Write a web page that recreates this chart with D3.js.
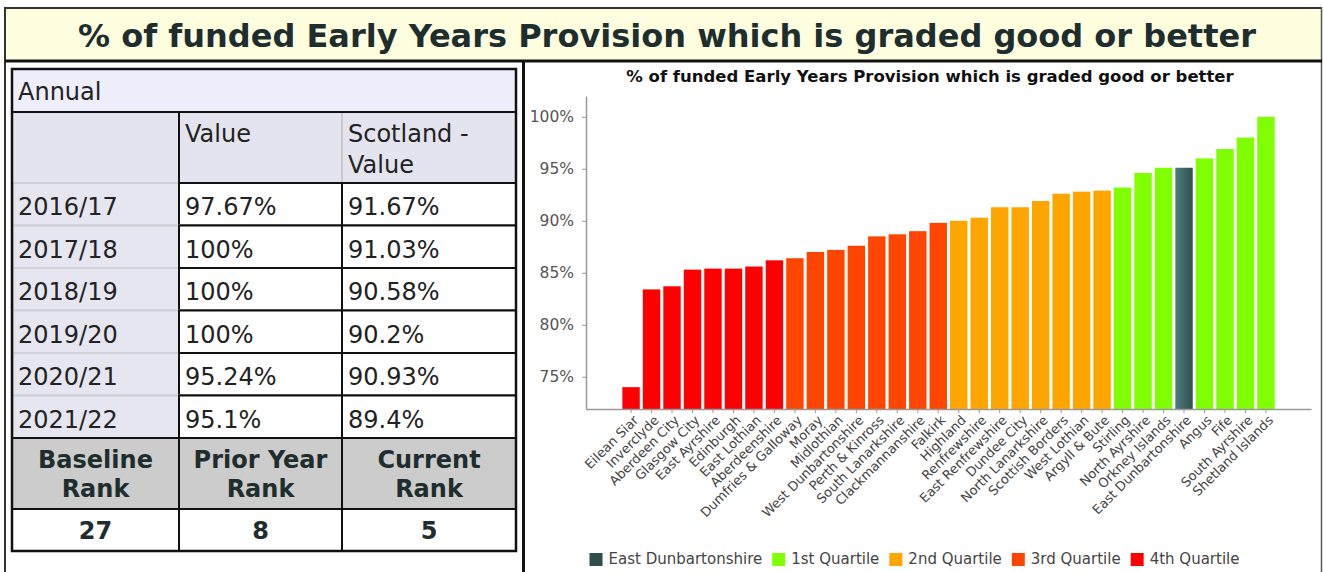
<!DOCTYPE html>
<html>
<head>
<meta charset="utf-8">
<script src="https://cdn.jsdelivr.net/npm/d3@7"></script>
<style>
  html, body { margin: 0; padding: 0; background: #fff; }
  svg { display: block; }
  text { font-family: "DejaVu Sans", Verdana, sans-serif; }
</style>
</head>
<body>
<svg id="page" width="1323" height="572"></svg>
<script>
// ---- data -------------------------------------------------------------
const pageTitle = "% of funded Early Years Provision which is graded good or better";

const years = ["2016/17", "2017/18", "2018/19", "2019/20", "2020/21", "2021/22"];
const eastDunValues = [97.67, 100, 100, 100, 95.24, 95.1];
const scotlandValues = [91.67, 91.03, 90.58, 90.2, 90.93, 89.4];

const rankLabels = [["Baseline", "Rank"], ["Prior Year", "Rank"], ["Current", "Rank"]];
const rankValues = [27, 8, 5];

const councils = [
  "Eilean Siar", "Inverclyde", "Aberdeen City", "Glasgow City", "East Ayrshire",
  "Edinburgh", "East Lothian", "Aberdeenshire", "Dumfries & Galloway", "Moray",
  "Midlothian", "West Dunbartonshire", "Perth & Kinross", "South Lanarkshire",
  "Clackmannanshire", "Falkirk", "Highland", "Renfrewshire", "East Renfrewshire",
  "Dundee City", "North Lanarkshire", "Scottish Borders", "West Lothian",
  "Argyll & Bute", "Stirling", "North Ayrshire", "Orkney Islands",
  "East Dunbartonshire", "Angus", "Fife", "South Ayrshire", "Shetland Islands"
];
const councilValues = [
  74.0, 83.4, 83.7, 85.3, 85.4, 85.4, 85.6, 86.2, 86.4, 87.0,
  87.2, 87.6, 88.5, 88.7, 89.0, 89.8, 90.0, 90.3, 91.3, 91.3,
  91.9, 92.6, 92.8, 92.9, 93.2, 94.6, 95.1, 95.1, 96.0, 96.9,
  98.0, 100
];
const councilGroups = [
  "4th Quartile", "4th Quartile", "4th Quartile", "4th Quartile",
  "4th Quartile", "4th Quartile", "4th Quartile", "4th Quartile",
  "3rd Quartile", "3rd Quartile", "3rd Quartile", "3rd Quartile",
  "3rd Quartile", "3rd Quartile", "3rd Quartile", "3rd Quartile",
  "2nd Quartile", "2nd Quartile", "2nd Quartile", "2nd Quartile",
  "2nd Quartile", "2nd Quartile", "2nd Quartile", "2nd Quartile",
  "1st Quartile", "1st Quartile", "1st Quartile", "East Dunbartonshire",
  "1st Quartile", "1st Quartile", "1st Quartile", "1st Quartile"
];
const legendKeys = ["East Dunbartonshire", "1st Quartile", "2nd Quartile", "3rd Quartile", "4th Quartile"];
const yTicks = [75, 80, 85, 90, 95, 100];

// ---- styles -----------------------------------------------------------
const groupColour = {
  "East Dunbartonshire": "url(#edGrad)",
  "1st Quartile": "#7fff00",
  "2nd Quartile": "#ffa500",
  "3rd Quartile": "#ff4500",
  "4th Quartile": "#ff0000"
};
const legendColour = {
  "East Dunbartonshire": "#2f4f4f",
  "1st Quartile": "#7fff00",
  "2nd Quartile": "#ffa500",
  "3rd Quartile": "#ff4500",
  "4th Quartile": "#ff0000"
};
const pct = d => d + "%";

const svg = d3.select("#page");

const defs = svg.append("defs");
const grad = defs.append("linearGradient").attr("id", "edGrad")
  .attr("x1", "0").attr("x2", "1").attr("y1", "0").attr("y2", "0");
grad.append("stop").attr("offset", "0").attr("stop-color", "#4f7d7b");
grad.append("stop").attr("offset", "1").attr("stop-color", "#2f4f4f");

// ---- frame and heading ------------------------------------------------
svg.append("rect").attr("x", 6).attr("y", 9).attr("width", 1315).attr("height", 52)
  .attr("fill", "#ffffe0");
svg.append("line").attr("x1", 5).attr("x2", 1322).attr("y1", 8).attr("y2", 8)
  .attr("stroke", "#333").attr("stroke-width", 2);
svg.append("line").attr("x1", 5).attr("x2", 5).attr("y1", 7).attr("y2", 572)
  .attr("stroke", "#333").attr("stroke-width", 2);
svg.append("line").attr("x1", 1321.5).attr("x2", 1321.5).attr("y1", 7).attr("y2", 572)
  .attr("stroke", "#555").attr("stroke-width", 1.5);
svg.append("line").attr("x1", 5).attr("x2", 1322).attr("y1", 61).attr("y2", 61)
  .attr("stroke", "#111").attr("stroke-width", 3);
svg.append("line").attr("x1", 523.5).attr("x2", 523.5).attr("y1", 61).attr("y2", 572)
  .attr("stroke", "#111").attr("stroke-width", 3);

svg.append("text").attr("x", 667).attr("y", 47)
  .attr("text-anchor", "middle")
  .style("font-weight", "bold").style("font-size", "32px").attr("fill", "#1e2d2d")
  .text(pageTitle);

// ---- table ------------------------------------------------------------
const table = svg.append("g").attr("class", "table");
const colX = [12, 179, 342, 516];
const annualTop = 69, headTop = 112, bodyTop = 183, rowH = 42.5;
const rankHeadTop = bodyTop + rowH * years.length, rankValTop = rankHeadTop + 71, tableBottom = rankValTop + 42;
const ink = "#222";

// "Annual" band
table.append("rect").attr("x", colX[0]).attr("y", annualTop)
  .attr("width", colX[3] - colX[0]).attr("height", headTop - annualTop)
  .attr("fill", "#eeeefc").attr("stroke", "#111").attr("stroke-width", 2);
table.append("text").attr("x", colX[0] + 6).attr("y", annualTop + 31)
  .style("font-size", "24px").attr("fill", ink).text("Annual");

// column header band
table.append("rect").attr("x", colX[0]).attr("y", headTop)
  .attr("width", colX[3] - colX[0]).attr("height", bodyTop - headTop)
  .attr("fill", "#e4e4ee").attr("stroke", "#111").attr("stroke-width", 2);
table.append("line").attr("x1", colX[1]).attr("x2", colX[1]).attr("y1", headTop).attr("y2", bodyTop)
  .attr("stroke", "#111").attr("stroke-width", 2);
table.append("line").attr("x1", colX[2]).attr("x2", colX[2]).attr("y1", headTop + 1).attr("y2", bodyTop - 1)
  .attr("stroke", "#c8c8c8").attr("stroke-width", 2);
table.append("text").attr("x", colX[1] + 6).attr("y", headTop + 30)
  .style("font-size", "24px").attr("fill", ink).text("Value");
const scotHead = table.append("text").attr("x", colX[2] + 6).attr("y", headTop + 30)
  .style("font-size", "24px").attr("fill", ink);
scotHead.append("tspan").attr("x", colX[2] + 6).text("Scotland -");
scotHead.append("tspan").attr("x", colX[2] + 6).attr("dy", 30.5).text("Value");

// yearly rows
const rows = table.selectAll("g.row").data(years).join("g").attr("class", "row")
  .attr("transform", (d, i) => `translate(0,${bodyTop + i * rowH})`);
rows.append("rect").attr("x", colX[0] + 1).attr("y", 0)
  .attr("width", colX[1] - colX[0] - 1).attr("height", rowH)
  .attr("fill", "#e6e6f0").attr("stroke", "#cfcfd6").attr("stroke-width", 2);
rows.append("rect").attr("x", colX[1]).attr("y", 0)
  .attr("width", colX[2] - colX[1]).attr("height", rowH)
  .attr("fill", "#fff").attr("stroke", "#111").attr("stroke-width", 2);
rows.append("rect").attr("x", colX[2]).attr("y", 0)
  .attr("width", colX[3] - colX[2]).attr("height", rowH)
  .attr("fill", "#fff").attr("stroke", "#111").attr("stroke-width", 2);
rows.append("text").attr("x", colX[0] + 6).attr("y", 32)
  .style("font-size", "24px").attr("fill", ink).text(d => d);
rows.append("text").attr("x", colX[1] + 6).attr("y", 32)
  .style("font-size", "24px").attr("fill", ink).text((d, i) => pct(eastDunValues[i]));
rows.append("text").attr("x", colX[2] + 6).attr("y", 32)
  .style("font-size", "24px").attr("fill", ink).text((d, i) => pct(scotlandValues[i]));

// rank header and values
const rankCols = rankLabels.map((lab, i) => ({ lab, val: rankValues[i], x0: colX[i], x1: colX[i + 1] }));
const rk = table.selectAll("g.rank").data(rankCols).join("g").attr("class", "rank");
rk.append("rect").attr("x", d => d.x0).attr("y", rankHeadTop)
  .attr("width", d => d.x1 - d.x0).attr("height", rankValTop - rankHeadTop)
  .attr("fill", "#cccccc").attr("stroke", "#111").attr("stroke-width", 2);
rk.append("rect").attr("x", d => d.x0).attr("y", rankValTop)
  .attr("width", d => d.x1 - d.x0).attr("height", tableBottom - rankValTop)
  .attr("fill", "#fff").attr("stroke", "#111").attr("stroke-width", 2);
const rkHead = rk.append("text").attr("text-anchor", "middle")
  .style("font-size", "24px").style("font-weight", "bold").attr("fill", "#1e2d2d")
  .attr("y", rankHeadTop + 30);
rkHead.append("tspan").attr("x", d => (d.x0 + d.x1) / 2).text(d => d.lab[0]);
rkHead.append("tspan").attr("x", d => (d.x0 + d.x1) / 2).attr("dy", 29).text(d => d.lab[1]);
rk.append("text").attr("text-anchor", "middle")
  .attr("x", d => (d.x0 + d.x1) / 2).attr("y", rankValTop + 30)
  .style("font-size", "24px").style("font-weight", "bold").attr("fill", "#1e2d2d")
  .text(d => d.val);

// outer table border
table.append("rect").attr("x", colX[0]).attr("y", annualTop)
  .attr("width", colX[3] - colX[0]).attr("height", tableBottom - annualTop)
  .attr("fill", "none").attr("stroke", "#111").attr("stroke-width", 2.5);

// ---- bar chart --------------------------------------------------------
const chart = svg.append("g").attr("class", "chart");
const plot = { left: 586, right: 1311, top: 96, bottom: 409 };

chart.append("text").attr("x", 930).attr("y", 82).attr("text-anchor", "middle")
  .style("font-size", "16.5px").style("font-weight", "bold").attr("fill", "#111")
  .text(pageTitle);

const x = d3.scaleBand().domain(councils).range([plot.left, plot.right])
  .paddingInner(0.15).paddingOuter(1.775);
const y = d3.scaleLinear().domain([71.9, 102.0]).range([plot.bottom, plot.top]);

const bars = councils.map((c, i) => ({ name: c, value: councilValues[i], group: councilGroups[i] }));

chart.selectAll("rect.bar").data(bars).join("rect").attr("class", "bar")
  .attr("x", d => x(d.name)).attr("width", x.bandwidth())
  .attr("y", d => y(d.value)).attr("height", d => y.range()[0] - y(d.value))
  .attr("fill", d => groupColour[d.group]);

const yAxis = chart.append("g").attr("transform", `translate(${plot.left},0)`)
  .call(d3.axisLeft(y).tickValues(yTicks).tickFormat(pct).tickSize(4).tickSizeOuter(0));
yAxis.select(".domain").attr("stroke", "#999").attr("stroke-width", 1.5);
yAxis.selectAll(".tick line").attr("stroke", "#999");
yAxis.selectAll(".tick text").attr("x", -12)
  .style("font-size", "15.5px").style("font-family", "'DejaVu Sans', sans-serif").attr("fill", "#555");

const xAxis = chart.append("g").attr("transform", `translate(0,${plot.bottom})`)
  .call(d3.axisBottom(x).tickSize(4).tickSizeOuter(0));
xAxis.select(".domain").attr("stroke", "#999").attr("stroke-width", 1.5);
xAxis.selectAll(".tick line").attr("stroke", "#999");
xAxis.selectAll(".tick text")
  .attr("x", 0).attr("y", 0).attr("dy", 0)
  .attr("text-anchor", "end")
  .attr("transform", "translate(8,12) rotate(-45)")
  .style("font-size", "13px").style("font-family", "'DejaVu Sans', sans-serif").attr("fill", "#444");

// ---- legend -----------------------------------------------------------
const legend = chart.append("g").attr("class", "legend");
const items = legend.selectAll("g").data(legendKeys).join("g");
items.append("rect").attr("width", 13).attr("height", 13).attr("y", -11)
  .attr("fill", d => legendColour[d]);
items.append("text").attr("x", 19).attr("y", 0)
  .style("font-size", "15px").attr("fill", "#444").text(d => d);
let cursor = 0;
items.each(function () {
  const w = 19 + this.querySelector("text").getComputedTextLength();
  d3.select(this).attr("transform", `translate(${cursor},0)`);
  cursor += w + 10;
});
const legendWidth = cursor - 10;
legend.attr("transform", `translate(${914.5 - legendWidth / 2},564)`);
</script>
</body>
</html>
